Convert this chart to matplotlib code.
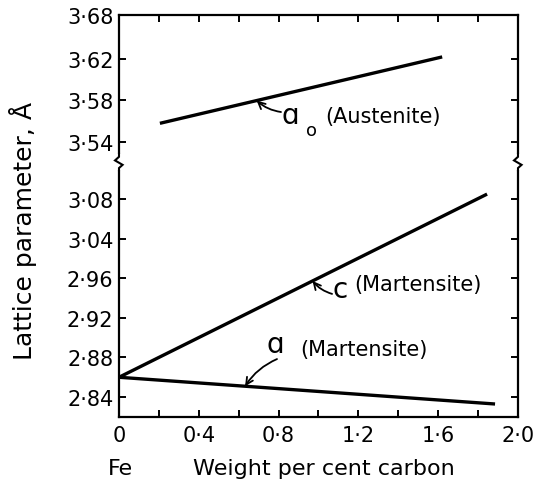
import numpy as np
import matplotlib
matplotlib.use("Agg")
import matplotlib.pyplot as plt

# end points of the three lattice parameter lines (wt% C, Angstrom)
a0_carbon = [0.205, 1.62]
a0_param = [3.558, 3.622]
c_carbon = [0.0, 1.845]
c_param = [2.860, 3.045]
a_carbon = [0.0, 1.885]
a_param = [2.860, 2.833]

x_major = [0, 0.4, 0.8, 1.2, 1.6, 2.0]
x_labels = ["0", "0·4", "0·8", "1·2", "1·6", "2·0"]
x_minor = [0.2, 0.6, 1.0, 1.4, 1.8]
y_ticks = [2.84, 2.88, 2.92, 2.96, 3.00, 3.04, 3.54, 3.58, 3.62, 3.6624]
y_labels = ["2·84", "2·88", "2·92", "2·96", "3·04", "3·08",
            "3·54", "3·58", "3·62", "3·68"]

# broken y axis: the gap between martensite and austenite values is squeezed out
brk_val = [2.8198, 3.0774, 3.5207, 3.6624]
brk_pos = [0.0, 255.0, 255.01, 402.0]


def fwd(v):
    return np.interp(v, brk_val, brk_pos)


def inv(p):
    return np.interp(p, brk_pos, brk_val)


plt.rcParams['font.family'] = ['DejaVu Sans']

fig = plt.figure(figsize=(5.37, 4.85), dpi=100)
ax = fig.add_axes([0.2216, 0.138, 0.743, 0.829])
ax.set_yscale('function', functions=(fwd, inv))
ax.set_xlim(0, 2.0)
ax.set_ylim(brk_val[0], brk_val[-1])

lw = 2.4
ax.plot(a0_carbon, a0_param, color='black', lw=lw, solid_capstyle='butt')
ax.plot(c_carbon, c_param, color='black', lw=lw, solid_capstyle='butt')
ax.plot(a_carbon, a_param, color='black', lw=lw, solid_capstyle='butt')

for s in ax.spines.values():
    s.set_linewidth(1.6)

ax.set_xticks(x_major, x_labels)
ax.set_xticks(x_minor, minor=True)
ax.set_yticks(y_ticks, y_labels)
ax.yaxis.set_minor_locator(matplotlib.ticker.NullLocator())
ax.tick_params(axis='both', which='both', direction='in', length=5, width=1.4,
               labelsize=15)
ax.tick_params(axis='x', which='both', top=True, pad=6)
ax.tick_params(axis='y', which='both', right=True, pad=4)

# squiggles marking the break on both vertical spines
yb = fwd(brk_val[1]) / brk_pos[-1]
for xs in (0.0, 1.0):
    ax.plot([xs, xs], [yb - 0.016, yb + 0.014], color='white', lw=3,
            transform=ax.transAxes, clip_on=False, zorder=5)
    ax.plot([xs, xs, xs - 0.01, xs + 0.009, xs, xs],
            [yb + 0.02, yb + 0.013, yb + 0.004, yb - 0.007, yb - 0.015, yb - 0.02],
            color='black', lw=1.5, transform=ax.transAxes, clip_on=False,
            zorder=6, solid_joinstyle='miter')

# curve labels
lab = dict(color='black', va='center')
ax.text(0.857, 3.566, "ɑ", fontsize=20, ha='center', **lab)
ax.text(0.967, 3.5516, "o", fontsize=13, ha='center', **lab)
ax.text(1.033, 3.565, "(Austenite)", fontsize=15, ha='left', **lab)
ax.text(1.108, 2.949, "c", fontsize=20, ha='center', **lab)
ax.text(1.178, 2.954, "(Martensite)", fontsize=15, ha='left', **lab)
ax.text(0.782, 2.8935, "ɑ", fontsize=20, ha='center', **lab)
ax.text(0.907, 2.8886, "(Martensite)", fontsize=15, ha='left', **lab)

arrow = dict(arrowstyle='->,head_length=0.5,head_width=0.25', color='black',
             lw=1.3, shrinkA=0, shrinkB=0)
hx = 0.69
ax.annotate("", xy=(hx, np.interp(hx, a0_carbon, a0_param)), xytext=(0.812, 3.5689),
            arrowprops=dict(connectionstyle='arc3,rad=-0.15', **arrow))
hx = 0.97
ax.annotate("", xy=(hx, np.interp(hx, c_carbon, c_param)), xytext=(1.068, 2.9442),
            arrowprops=dict(connectionstyle='arc3,rad=-0.15', **arrow))
hx = 0.632
ax.annotate("", xy=(hx, np.interp(hx, a_carbon, a_param)), xytext=(0.792, 2.8784),
            arrowprops=dict(connectionstyle='arc3,rad=0.15', **arrow))

ax.set_ylabel("Lattice parameter, Å", fontsize=18)
ax.yaxis.set_label_coords(-0.205, 0.465)
fig.text(120 / 537, 1 - 469 / 485, "Fe", fontsize=16, ha='center', va='center')
fig.text(324 / 537, 1 - 469 / 485, "Weight per cent carbon", fontsize=16,
         ha='center', va='center')

fig.savefig("out.png", dpi=100, facecolor='white')
